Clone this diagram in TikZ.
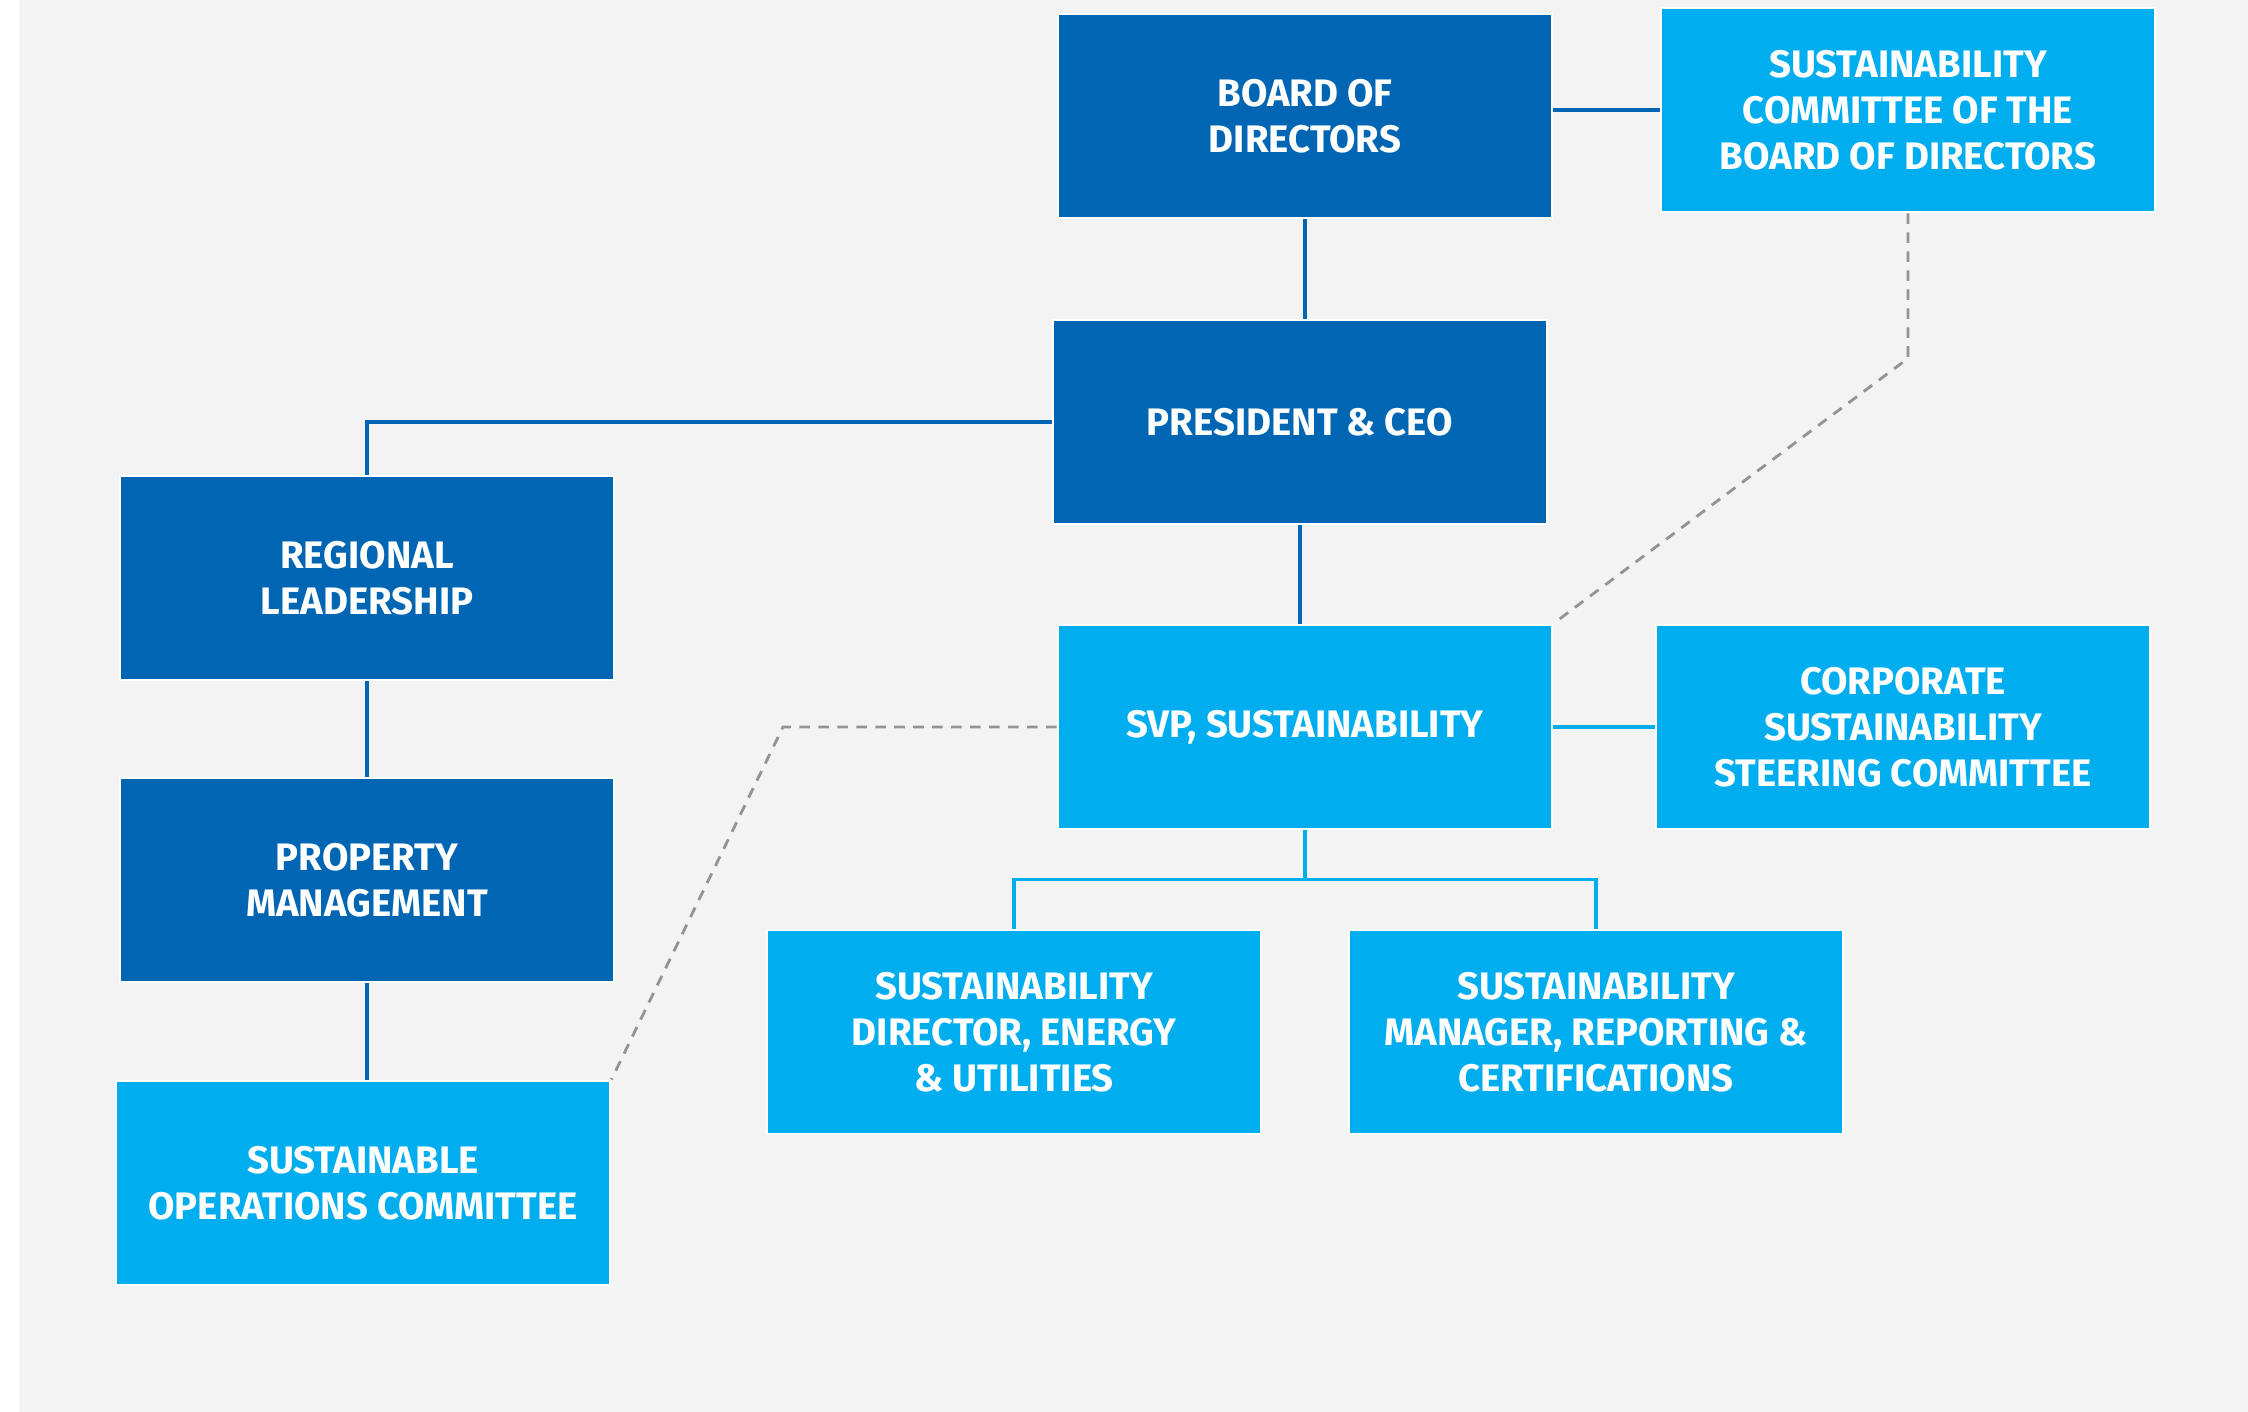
\documentclass[tikz,border=0pt]{standalone}
\usepackage{fontspec}
\setmainfont{Fira Sans}
\usepackage{tikz}
\usetikzlibrary{positioning, calc}

\definecolor{bgGray}{HTML}{F3F3F3}
\definecolor{darkBlue}{HTML}{0066B3}
\definecolor{lightBlue}{HTML}{00AEEF}
\definecolor{dashGray}{HTML}{939393}

\begin{document}
\begin{tikzpicture}[
  font=\fontsize{10.9}{13.1}\selectfont\bfseries,
  every node/.style={align=center},
  orgbox/.style={draw=white, line width=0.8pt, text=white,
    minimum width=4.94cm, minimum height=2.04cm, inner sep=0pt},
  darkbox/.style={orgbox, fill=darkBlue},
  lightbox/.style={orgbox, fill=lightBlue},
  darkline/.style={draw=darkBlue, line width=0.9pt},
  lightline/.style={draw=lightBlue, line width=0.9pt},
  dotline/.style={draw=dashGray, line width=0.8pt, dash pattern=on 3pt off 2.4pt}
]

%% ---- Background ----
\useasboundingbox (0,0) rectangle (22.48,14.12);
\fill[bgGray] (0.19,0) rectangle (22.48,14.12);

%% ---- Top rows ----
\node[darkbox] (board) at (13.05,12.96) {BOARD OF\\DIRECTORS};
\node[lightbox] (sustcomm) at (19.08,13.02)
  {SUSTAINABILITY\\COMMITTEE OF THE\\BOARD OF DIRECTORS};
\node[darkbox] (ceo) at (13.00,9.90) {PRESIDENT \& CEO};

%% ---- Regional branch ----
\node[darkbox] (regional) at (3.67,8.34) {REGIONAL\\LEADERSHIP};
\node[darkbox] (property) at (3.67,5.32) {PROPERTY\\MANAGEMENT};
\node[lightbox] (sustops) at (3.63,2.29) {SUSTAINABLE\\OPERATIONS COMMITTEE};

%% ---- Sustainability branch ----
\node[lightbox] (svp) at (13.05,6.85) {SVP, SUSTAINABILITY};
\node[lightbox] (steering) at (19.03,6.85)
  {CORPORATE\\SUSTAINABILITY\\STEERING COMMITTEE};
\node[lightbox] (director) at (10.14,3.80)
  {SUSTAINABILITY\\DIRECTOR, ENERGY\\\& UTILITIES};
\node[lightbox] (manager) at (15.96,3.80)
  {SUSTAINABILITY\\MANAGER, REPORTING \&\\CERTIFICATIONS};

%% ---- Solid reporting lines ----
\draw[darkline] (board.south) -- (board.south |- ceo.north);
\draw[darkline] (board.east |- sustcomm.west) -- (sustcomm.west);
\draw[darkline] (ceo.west) -| (regional.north);
\draw[darkline] (ceo.south) -- (ceo.south |- svp.north);
\draw[darkline] (regional) -- (property);
\draw[darkline] (property.south) -- (property.south |- sustops.north);
\draw[lightline] (svp.east) -- (svp.east -| steering.west);

\coordinate (split) at ($(svp.south)!0.5!(svp.south |- director.north)$);
\draw[lightline] (svp.south) -- (split);
\draw[lightline] (director.north) |- (split) -| (manager.north);

%% ---- Dashed links ----
\coordinate (kink) at (7.83,0);
\draw[dotline] (sustcomm.south) -- ++(0,-1.45) -- (svp.north east);
\draw[dotline] (svp.west) -- (svp.west -| kink) -- (sustops.north east);

\end{tikzpicture}
\end{document}
